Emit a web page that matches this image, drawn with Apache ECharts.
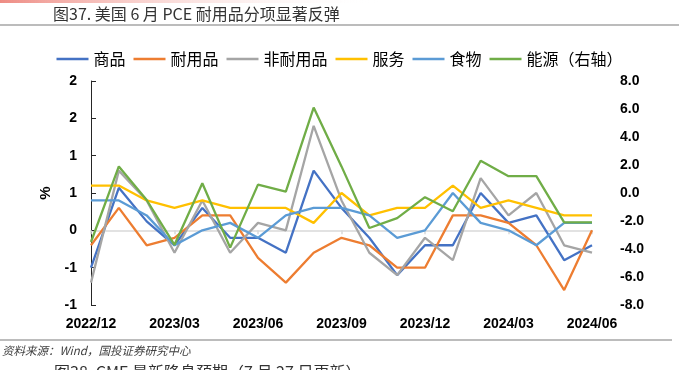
<!DOCTYPE html>
<html>
<head>
<meta charset="utf-8">
<script src="https://cdn.jsdelivr.net/npm/echarts@6/dist/echarts.min.js"></script>
<style>
html,body{margin:0;padding:0;background:#fff;}
#chart{width:679px;height:370px;}
</style>
</head>
<body>
<div id="chart"></div>
<script>
const categories = ['2022/12','2023/01','2023/02','2023/03','2023/04','2023/05','2023/06','2023/07','2023/08','2023/09','2023/10','2023/11','2023/12','2024/01','2024/02','2024/03','2024/04','2024/05','2024/06'];
const seriesNames = ['商品','耐用品','非耐用品','服务','食物','能源（右轴）'];
const goods      = [-0.5, 0.57, 0.12, -0.2, 0.3, -0.1, -0.1, -0.3, 0.8, 0.3, -0.1, -0.6, -0.2, -0.2, 0.5, 0.1, 0.2, -0.4, -0.2];
const durable    = [-0.2, 0.3, -0.2, -0.1, 0.2, 0.2, -0.37, -0.7, -0.3, -0.1, -0.2, -0.5, -0.5, 0.2, 0.2, 0.1, -0.2, -0.8, 0.0];
const nondurable = [-0.7, 0.8, 0.4, -0.3, 0.4, -0.3, 0.1, 0.0, 1.4, 0.4, -0.3, -0.6, -0.1, -0.4, 0.7, 0.2, 0.5, -0.2, -0.3];
const services   = [0.6, 0.6, 0.4, 0.3, 0.4, 0.3, 0.3, 0.3, 0.1, 0.5, 0.2, 0.3, 0.3, 0.6, 0.3, 0.4, 0.3, 0.2, 0.2];
const food       = [0.4, 0.4, 0.2, -0.2, 0.0, 0.1, -0.1, 0.2, 0.3, 0.3, 0.2, -0.1, 0.0, 0.5, 0.1, 0.0, -0.2, 0.1, 0.1];
const energy     = [-3.5, 1.9, -0.5, -3.7, 0.7, -3.9, 0.6, 0.1, 6.1, 1.9, -2.5, -1.8, -0.3, -1.3, 2.3, 1.2, 1.2, -2.1, -2.1];
const leftTickLabels  = ['-1','-1','0','1','1','2','2'];
const rightTickLabels = ['-8.0','-6.0','-4.0','-2.0','0.0','2.0','4.0','6.0','8.0'];
const colors = ['#4472C4','#ED7D31','#A5A5A5','#FFC000','#5B9BD5','#70AD47'];

const chart = echarts.init(document.getElementById('chart'), null, {renderer:'canvas'});
const axisFont = {fontFamily:'Liberation Sans, Arial, sans-serif', fontWeight:'bold', fontSize:14, color:'#000'};
const values = [goods, durable, nondurable, services, food, energy];
const series = values.map((d,i)=>({
  name: seriesNames[i], type:'line', data:d, symbol:'none',
  yAxisIndex: i===5 ? 1 : 0, xAxisIndex: 0,
  lineStyle:{color:colors[i], width:2.3}, itemStyle:{color:colors[i]},
  animation:false
}));

chart.setOption({
  animation:false,
  color: colors,
  graphic:[
    {type:'rect', shape:{x:0,y:0,width:380,height:3}, style:{fill:new echarts.graphic.LinearGradient(0,0,1,0,[{offset:0,color:'#ee8c84'},{offset:1,color:'rgba(255,255,255,0)'}])}},
    {type:'text', left:53, top:6, style:{text:'图37. 美国 6 月 PCE 耐用品分项显著反弹', font:'16px "Noto Sans CJK SC", sans-serif', fill:'#333'}},
    {type:'line', shape:{x1:0,y1:25,x2:679,y2:25}, style:{stroke:'#a6a6a6', lineWidth:1.5}},
    {type:'line', shape:{x1:0,y1:340,x2:672,y2:340}, style:{stroke:'#a6a6a6', lineWidth:1.5}},
    {type:'text', left:2, top:345, style:{text:'资料来源：Wind，国投证券研究中心', font:'italic 11.5px "Noto Sans CJK SC", sans-serif', fill:'#404040'}},
    {type:'text', left:54, top:364, style:{text:'图38. CME 最新降息预期（7 月 27 日更新）', font:'16px "Noto Sans CJK SC", sans-serif', fill:'#333'}}
  ],
  legend:{
    data: seriesNames, left:'center', top:46, icon:'rect',
    itemWidth:32, itemHeight:2.5, itemGap:8, itemTextGap:3,
    textStyle:{fontFamily:'"Noto Sans CJK SC", sans-serif', fontSize:16, color:'#000'}
  },
  grid:{left:91, top:81, width:501, height:224, containLabel:false},
  xAxis:[
    {type:'category', data:categories, boundaryGap:false, position:'bottom',
     axisLine:{show:false, onZero:false}, axisTick:{show:false},
     axisLabel:Object.assign({interval:2, margin:12}, axisFont), splitLine:{show:false}},
    {type:'category', data:categories, boundaryGap:false, position:'top',
     axisLine:{show:true, onZero:true, onZeroAxisIndex:0, lineStyle:{color:'#d9d9d9', width:1.5}},
     axisTick:{show:true, interval:2, inside:true, length:4, lineStyle:{color:'#d9d9d9', width:1.5}},
     axisLabel:{show:false}, splitLine:{show:false}}
  ],
  yAxis:[
    {type:'value', min:-1, max:2, interval:0.5, position:'left',
     name:'%', nameLocation:'middle', nameGap:35, nameRotate:90,
     nameTextStyle:{fontFamily:'Liberation Sans, Arial, sans-serif', fontWeight:'bold', fontSize:15, color:'#000'},
     axisLine:{show:true, lineStyle:{color:'#262626', width:1}},
     axisTick:{show:true, inside:true, length:5, lineStyle:{color:'#262626'}},
     axisLabel:Object.assign({margin:14, formatter:v=>leftTickLabels[Math.round((v+1)/0.5)]}, axisFont),
     splitLine:{show:false}},
    {type:'value', min:-8, max:8, interval:2, position:'right',
     axisLine:{show:false}, axisTick:{show:false},
     axisLabel:Object.assign({margin:28, formatter:v=>rightTickLabels[Math.round((v+8)/2)]}, axisFont),
     splitLine:{show:false}}
  ],
  series: series
});
</script>
</body>
</html>
